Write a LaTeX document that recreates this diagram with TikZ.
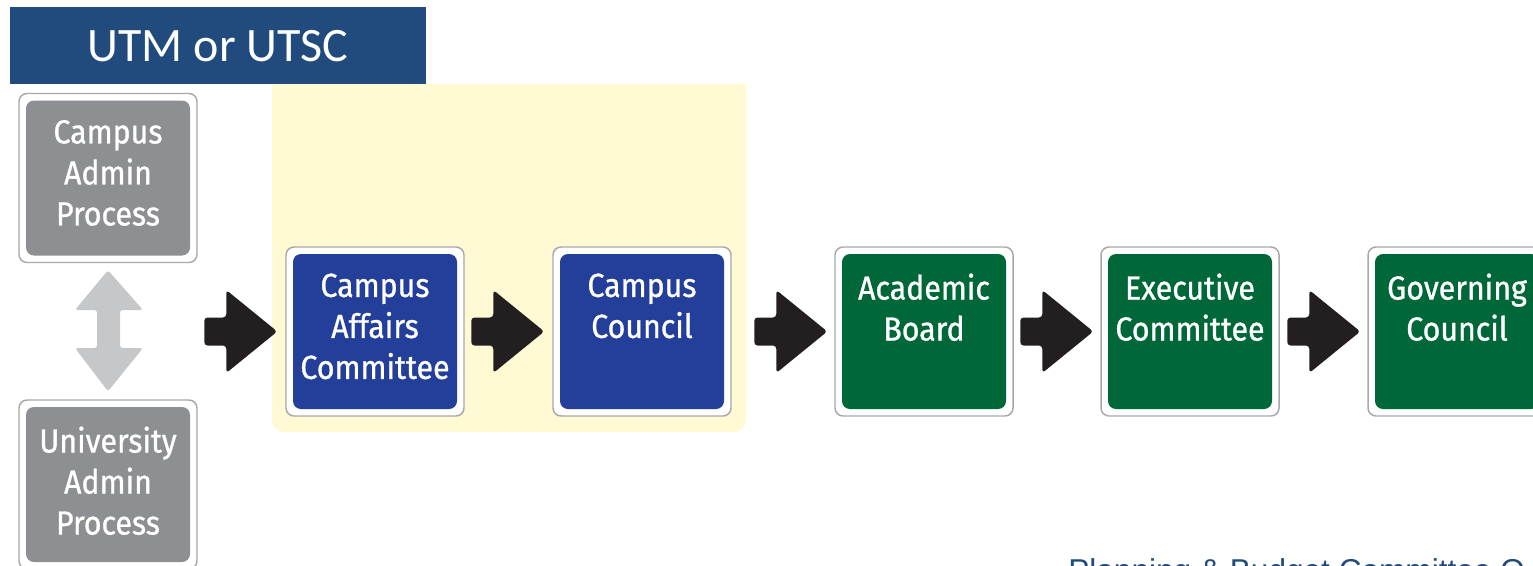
\documentclass[tikz,border=0pt]{standalone}
\usepackage{fontspec}
\setmainfont{Liberation Sans}
\newfontfamily\boxfont[FakeStretch=0.91,FakeBold=0.9]{Fira Sans}
\newfontfamily\headfont{Carlito}

\definecolor{headblue}{HTML}{224B7D}
\definecolor{panelyellow}{HTML}{FFF9D4}
\definecolor{admingray}{HTML}{8E8F92}
\definecolor{campusblue}{HTML}{233F99}
\definecolor{boardgreen}{HTML}{006838}
\definecolor{arrowblack}{HTML}{231F20}
\definecolor{arrowgray}{HTML}{C6C7C9}
\definecolor{framegray}{HTML}{A8A8A8}

\tikzset{
  outerbox/.style={draw=framegray, line width=1.1pt, fill=white,
    rounded corners=6pt, minimum width=133.5pt, minimum height=126.75pt,
    inner sep=0pt},
  innerbox/.style={rounded corners=6pt, minimum width=123pt,
    minimum height=116.25pt, inner sep=0pt},
  boxtext/.style={text=white, align=center, anchor=north, inner sep=0pt,
    font=\boxfont\fontsize{25}{30.75}\selectfont},
  pics/fatarrow/.style={code={
    \fill[arrowblack, rounded corners=2.5pt]
      (-73,-14) -- (-51,-14) -- (-51,-41.5) -- (0,0) -- (-51,41.5)
      -- (-51,14) -- (-73,14) -- cycle;}},
}

\begin{document}
\begin{tikzpicture}[x=0.75pt, y=-0.75pt]
\useasboundingbox (0,0) rectangle (1533,565);
\clip (0,0) rectangle (1533,565);

% campus panel behind the two campus bodies
\fill[panelyellow, rounded corners=9pt] (272,84) rectangle (746,432);
\fill[panelyellow] (272,84) rectangle (746,120);

% title bar
\fill[headblue] (10,7) rectangle (426,84);
\node[text=white, inner sep=0pt, font=\headfont\fontsize{36}{42}\selectfont]
  (title) at (218,46.5) {UTM or UTSC};

% administrative processes
\node[outerbox] (cap) at (108,178) {};
\node[innerbox, fill=admingray] at (cap) {};
\node[boxtext] at ([yshift=-20.25pt]cap.north) {Campus\\Admin\\Process};

\node[outerbox] (uap) at (108,484.5) {};
\node[innerbox, fill=admingray] at (uap) {};
\node[boxtext] at ([yshift=-20.25pt]uap.north) {University\\Admin\\Process};

% two-way link between the administrative processes
\fill[arrowgray, rounded corners=2pt]
  ([yshift=-7pt*0.75]cap.south) -- (143,310) -- (120,310) -- (120,348)
  -- (143,348) -- ([yshift=8pt*0.75]uap.north) -- (75,348) -- (97,348)
  -- (97,310) -- (75,310) -- cycle;

% governance bodies
\node[outerbox] (cac) at (375,331.5) {};
\node[innerbox, fill=campusblue] at (cac) {};
\node[boxtext] at ([yshift=-20.25pt]cac.north) {Campus\\Affairs\\Committee};

\node[outerbox] (cc) at (642,331.5) {};
\node[innerbox, fill=campusblue] at (cc) {};
\node[boxtext] at ([yshift=-20.25pt]cc.north) {Campus\\Council};

\node[outerbox] (ab) at (924,331.5) {};
\node[innerbox, fill=boardgreen] at (ab) {};
\node[boxtext] at ([yshift=-20.25pt]ab.north) {Academic\\Board};

\node[outerbox] (ec) at (1190,331.5) {};
\node[innerbox, fill=boardgreen] at (ec) {};
\node[boxtext] at ([yshift=-20.25pt]ec.north) {Executive\\Committee};

\node[outerbox] (gc) at (1457,331.5) {};
\node[innerbox, fill=boardgreen] at (gc) {};
\node[boxtext] at ([yshift=-20.25pt]gc.north) {Governing\\Council};

% flow arrows, each ending just short of the next body
\pic at ([xshift=-6pt]cac.west) {fatarrow};
\pic at ([xshift=-6pt]cc.west) {fatarrow};
\pic at ([xshift=-5.25pt]ab.west) {fatarrow};
\pic at ([xshift=-5.25pt]ec.west) {fatarrow};
\pic at ([xshift=-5.25pt]gc.west) {fatarrow};

% footer caption, running off the lower right edge
\node[anchor=base west, inner sep=0pt, text=headblue,
  font=\fontsize{23.7}{28}\selectfont] (footer) at (1068,581.5)
  {Planning \& Budget Committee O};
\end{tikzpicture}
\end{document}
